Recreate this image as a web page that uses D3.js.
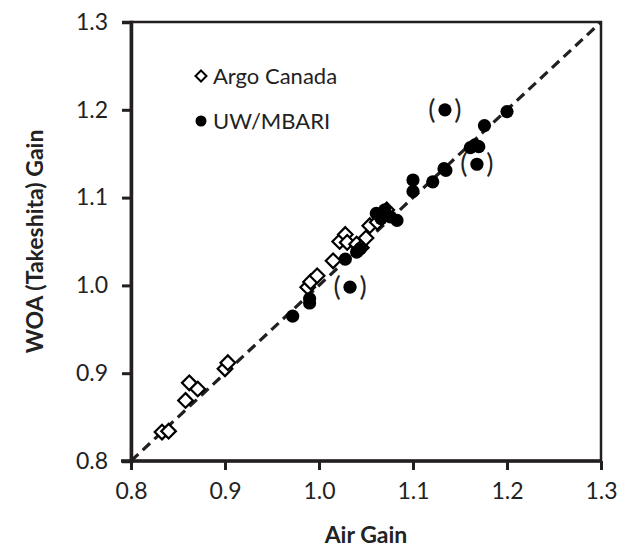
<!DOCTYPE html>
<html>
<head>
<meta charset="utf-8">
<script src="https://cdn.jsdelivr.net/npm/d3@7"></script>
<style>
  body { margin: 0; background: #fff; }
  svg text { font-family: Lato, "Open Sans", sans-serif; fill: #222; }
</style>
</head>
<body>
<svg id="chart" width="621" height="550"></svg>
<script>
// Argo Canada (open diamonds): [air gain, WOA gain]
const argoCanada = [
  [0.833, 0.833], [0.840, 0.834],
  [0.858, 0.869], [0.862, 0.889], [0.871, 0.882],
  [0.900, 0.905], [0.903, 0.912],
  [0.988, 0.998], [0.991, 1.004], [0.998, 1.011],
  [1.015, 1.028], [1.022, 1.050], [1.028, 1.058], [1.030, 1.049],
  [1.040, 1.047], [1.045, 1.043], [1.050, 1.054], [1.054, 1.068],
  [1.062, 1.072], [1.072, 1.086]
];
// UW/MBARI (filled circles)
const uwMbari = [
  [0.972, 0.965], [0.990, 0.980], [0.990, 0.985],
  [1.028, 1.030], [1.040, 1.038], [1.044, 1.042],
  [1.061, 1.082], [1.070, 1.086], [1.076, 1.078], [1.083, 1.074], [1.066, 1.076],
  [1.100, 1.120], [1.100, 1.107], [1.121, 1.118],
  [1.133, 1.133], [1.135, 1.131],
  [1.161, 1.157], [1.166, 1.160], [1.170, 1.158],
  [1.176, 1.182], [1.200, 1.198]
];
// points shown in parentheses (excluded)
const excluded = [[1.033, 0.998], [1.134, 1.200], [1.168, 1.138]];

const xTicks = [0.8, 0.9, 1.0, 1.1, 1.2, 1.3];
const yTicks = [0.8, 0.9, 1.0, 1.1, 1.2, 1.3];
const legendItems = ['Argo Canada', 'UW/MBARI'];

const svg = d3.select('#chart');
const m = { left: 131, right: 601, top: 22, bottom: 461 };

const x = d3.scaleLinear().domain([0.8, 1.3]).range([m.left, m.right]);
const y = d3.scaleLinear().domain([0.8, 1.3]).range([m.bottom, m.top]);

// frame (top + right)
svg.append('rect')
  .attr('x', m.left).attr('y', m.top)
  .attr('width', m.right - m.left).attr('height', m.bottom - m.top)
  .attr('fill', 'none').attr('stroke', '#231f20').attr('stroke-width', 2.5);

// 1:1 line
svg.append('line')
  .attr('x1', x(0.8)).attr('y1', y(0.8))
  .attr('x2', x(1.3)).attr('y2', y(1.3))
  .attr('stroke', '#231f20').attr('stroke-width', 3.2)
  .attr('stroke-dasharray', '10,6');

// axes
const xAxis = svg.append('g')
  .attr('transform', `translate(0,${m.bottom})`)
  .call(d3.axisBottom(x).tickValues(xTicks).tickFormat(d3.format('.1f')).tickSize(9).tickPadding(13));
const yAxis = svg.append('g')
  .attr('transform', `translate(${m.left},0)`)
  .call(d3.axisLeft(y).tickValues(yTicks).tickFormat(d3.format('.1f')).tickSize(9).tickPadding(14));

[xAxis, yAxis].forEach(g => {
  g.select('.domain').attr('stroke', '#231f20').attr('stroke-width', 3.5);
  g.selectAll('.tick line').attr('stroke', '#231f20').attr('stroke-width', 3);
  g.selectAll('.tick text').attr('font-size', 23).attr('fill', '#231f20')
    .style('font-family', 'Lato, "Open Sans", sans-serif');
});
xAxis.select('.domain').attr('d', `M${m.left - 10},0H${m.right}`);

// axis titles
svg.append('text')
  .attr('x', (m.left + m.right) / 2).attr('y', 543)
  .attr('text-anchor', 'middle').attr('font-size', 23).attr('font-weight', 'bold')
  .text('Air Gain');
svg.append('text')
  .attr('transform', `translate(43,${(m.top + m.bottom) / 2}) rotate(-90)`)
  .attr('text-anchor', 'middle').attr('font-size', 23).attr('font-weight', 'bold')
  .text('WOA (Takeshita) Gain');

const diamond = s => `M0,${-s}L${s},0L0,${s}L${-s},0Z`;

// Argo Canada
svg.append('g').selectAll('path')
  .data(argoCanada).join('path')
  .attr('transform', d => `translate(${x(d[0])},${y(d[1])})`)
  .attr('d', diamond(7.3))
  .attr('fill', '#fff').attr('stroke', '#000').attr('stroke-width', 2.2);

// UW/MBARI
svg.append('g').selectAll('circle')
  .data(uwMbari.concat(excluded)).join('circle')
  .attr('cx', d => x(d[0])).attr('cy', d => y(d[1]))
  .attr('r', 6.6).attr('fill', '#000');

// parentheses around excluded points
const paren = svg.append('g');
excluded.forEach(d => {
  [['(', -13], [')', 13]].forEach(([ch, dx]) => {
    paren.append('text')
      .attr('x', x(d[0]) + dx).attr('y', y(d[1]) + 9)
      .attr('text-anchor', 'middle').attr('font-size', 27)
      .attr('fill', '#222')
      .text(ch);
  });
});

// legend
const leg = svg.append('g');
leg.append('path').attr('transform', 'translate(201,76)').attr('d', diamond(5.5))
  .attr('fill', '#fff').attr('stroke', '#000').attr('stroke-width', 2);
leg.append('circle').attr('cx', 201).attr('cy', 121).attr('r', 5.5).attr('fill', '#000');
legendItems.forEach((t, i) => {
  leg.append('text').attr('x', 213).attr('y', 84 + i * 45)
    .attr('font-size', 22).text(t);
});
</script>
</body>
</html>
